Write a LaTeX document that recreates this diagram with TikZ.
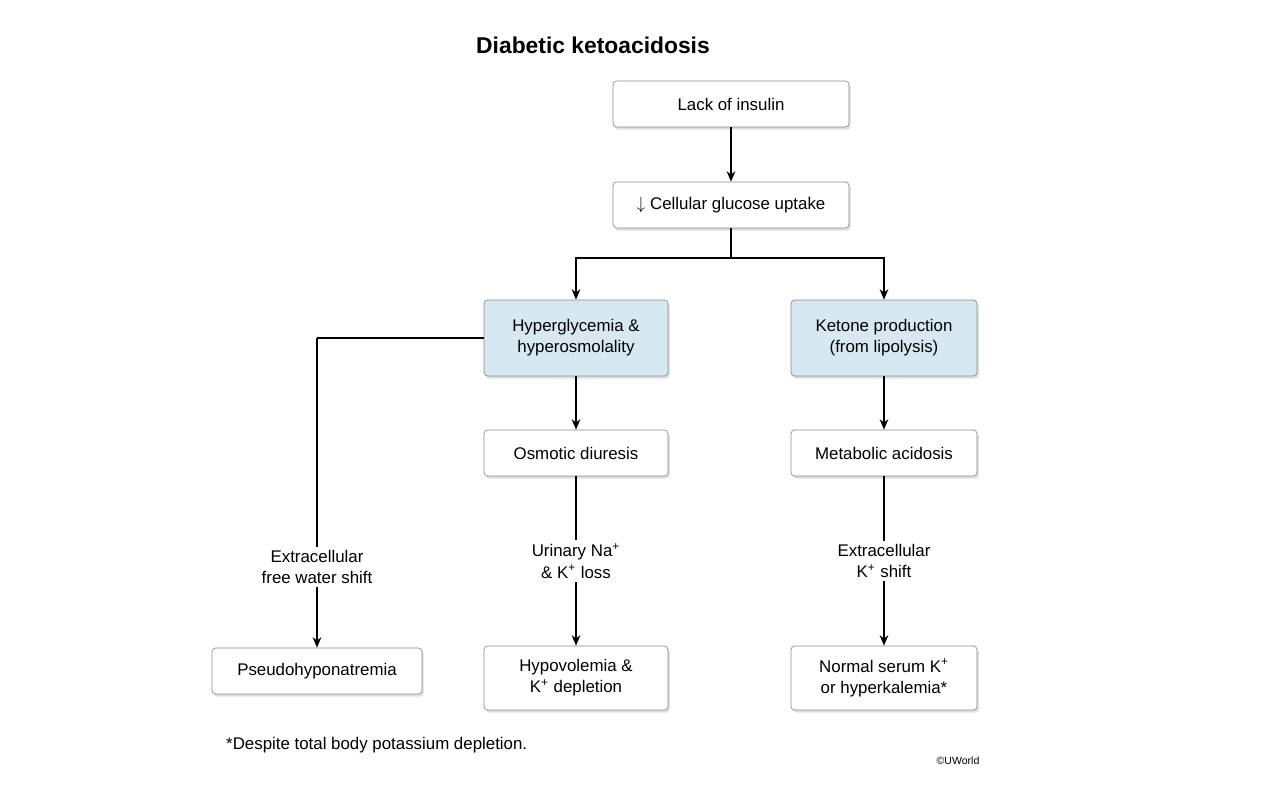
\documentclass[tikz,border=0pt]{standalone}
\usepackage{fontspec}
\setmainfont{Liberation Sans}
\usetikzlibrary{shadows,arrows.meta}
\definecolor{boxblue}{RGB}{214,232,242}
\begin{document}
\begin{tikzpicture}[
    x=0.02cm, y=-0.02cm,
    box/.style={draw=black!45, fill=white, rounded corners=2pt, align=center,
        font=\fontsize{9.6}{12}\selectfont, inner sep=0pt,
        drop shadow={shadow xshift=1pt, shadow yshift=-1.5pt, opacity=0.25}},
    arrow/.style={-{Stealth[length=6pt, width=5pt]}, line width=0.7pt},
    note/.style={font=\fontsize{9.6}{12}\selectfont, align=center, fill=white, inner sep=2pt}
]
    \useasboundingbox (0,0) rectangle (1280,800);
    % Title
    \node[font=\fontsize{13}{16}\selectfont\bfseries] (title) at (593,45) {Diabetic ketoacidosis};
    % Place nodes
    \node[box, minimum width=4.72cm, minimum height=0.92cm] (insulin) at (731,104) {Lack of insulin};
    \node[box, minimum width=4.72cm, minimum height=0.92cm] (uptake) at (731,205) {$\downarrow$ Cellular glucose uptake};
    \node[box, fill=boxblue, minimum width=3.68cm, minimum height=1.52cm] (hyper) at (576,338) {Hyperglycemia \&\\hyperosmolality};
    \node[box, fill=boxblue, minimum width=3.72cm, minimum height=1.52cm] (ketone) at (884,338) {Ketone production\\(from lipolysis)};
    \node[box, minimum width=3.68cm, minimum height=0.92cm] (diuresis) at (576,453) {Osmotic diuresis};
    \node[box, minimum width=3.72cm, minimum height=0.92cm] (acidosis) at (884,453) {Metabolic acidosis};
    \node[box, minimum width=4.2cm, minimum height=0.92cm] (pseudo) at (317,671) {Pseudohyponatremia};
    \node[box, minimum width=3.68cm, minimum height=1.28cm] (hypovol) at (576,678) {Hypovolemia \&\\K\textsuperscript{+} depletion};
    \node[box, minimum width=3.72cm, minimum height=1.28cm] (serum) at (884,678) {Normal serum K\textsuperscript{+}\\or hyperkalemia*};
    \coordinate (split) at (731,258);
    \coordinate (bend) at (317,338);
    % Add connections
    \draw[arrow] (insulin) -- (uptake);
    \draw[line width=0.7pt] (uptake) -- (split);
    \draw[arrow] (split) -| (hyper);
    \draw[arrow] (split) -| (ketone);
    \draw[arrow] (hyper) -- (diuresis);
    \draw[arrow] (ketone) -- (acidosis);
    \draw[line width=0.7pt] (hyper.west) -- (bend);
    \draw[arrow] (bend) -- (pseudo) node[note, pos=0.74] {Extracellular\\free water shift};
    \draw[arrow] (diuresis) -- (hypovol) node[note, midway] {Urinary Na\textsuperscript{+}\\\& K\textsuperscript{+} loss};
    \draw[arrow] (acidosis) -- (serum) node[note, midway] {Extracellular\\K\textsuperscript{+} shift};
    % Footnotes
    \node[font=\fontsize{9.6}{12}\selectfont, anchor=west] (foot) at (220,745) {*Despite total body potassium depletion.};
    \node[font=\fontsize{6}{7}\selectfont] (credit) at (958,761) {\textcopyright UWorld};
\end{tikzpicture}
\end{document}
